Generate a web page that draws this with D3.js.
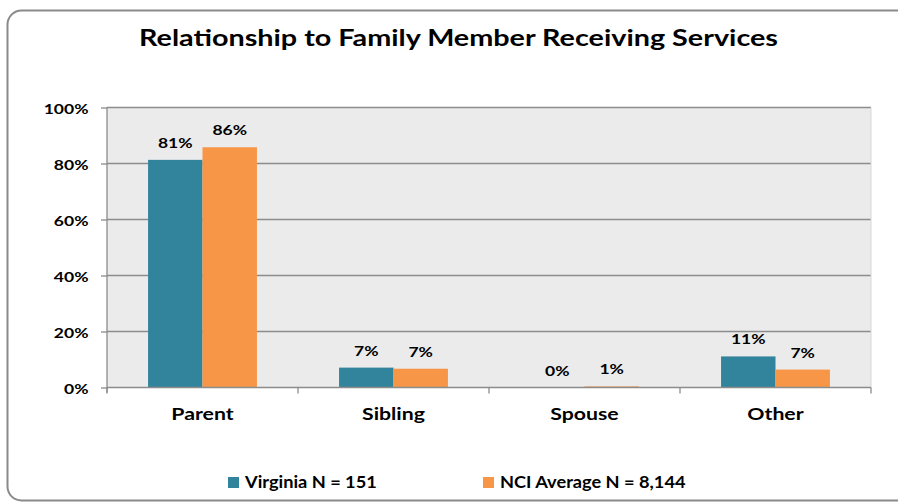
<!DOCTYPE html>
<html><head><meta charset="utf-8">
<script src="https://cdn.jsdelivr.net/npm/d3@7"></script>
<style>body{margin:0;background:#fff}text{font-family:Lato,"Open Sans",sans-serif;font-weight:bold;fill:#000}</style>
</head><body><svg id="c" width="898" height="503"></svg>
<script>
const categories = ["Parent", "Sibling", "Spouse", "Other"];
const seriesNames = ["Virginia N = 151", "NCI Average N = 8,144"];
const virginia = [0.813, 0.071, 0.0, 0.111];
const nciAverage = [0.858, 0.067, 0.004, 0.064];
const virginiaLabels = ["81%", "7%", "0%", "11%"];
const nciLabels = ["86%", "7%", "1%", "7%"];
const yTicks = [0, 0.2, 0.4, 0.6, 0.8, 1.0];
const colors = ["#31849B", "#F79646"];

const svg = d3.select("#c");
// outer frame
svg.append("rect").attr("x", 7.5).attr("y", 10.5).attr("width", 905).attr("height", 490)
  .attr("rx", 14).attr("fill", "#fff").attr("stroke", "#8a8a8a").attr("stroke-width", 2);

const L = 107, R = 871, T = 107.5, B = 387.5;
const x = d3.scaleBand().domain(categories).range([L, R]).paddingInner(0.43).paddingOuter(0.215);
const x1 = d3.scaleBand().domain([0, 1]).range([0, x.bandwidth()]);
const y = d3.scaleLinear().domain([0, 1]).range([B, T]);

svg.append("rect").attr("x", L).attr("y", T).attr("width", R - L).attr("height", B - T).attr("fill", "#ebebeb");

// gridlines
svg.append("g").selectAll("line").data(yTicks.filter(d => d > 0)).join("line")
  .attr("x1", L).attr("x2", R).attr("y1", d => y(d)).attr("y2", d => y(d))
  .attr("stroke", "#8c8c8c").attr("stroke-width", 1.3);
svg.append("line").attr("x1", R).attr("x2", R).attr("y1", T).attr("y2", B).attr("stroke", "#d8d8d8");

// y axis
const yAxis = d3.axisLeft(y).tickValues(yTicks).tickFormat(d3.format(".0%")).tickSize(6).tickPadding(12.5);
const yg = svg.append("g").attr("transform", `translate(${L},0)`).call(yAxis);
yg.select(".domain").attr("stroke", "#8c8c8c").attr("stroke-width", 1.3).attr("d", `M0,${T}V${B + 5}`);
yg.selectAll(".tick line").attr("stroke", "#8c8c8c").attr("stroke-width", 1.3);
yg.selectAll(".tick text").attr("font-size", 14).attr("dy", "0.45em").attr("font-family", "Lato").attr("font-weight", "bold").attr("fill", "#000");

// bars
const data = categories.map((c, i) => ({c, v: [virginia[i], nciAverage[i]], l: [virginiaLabels[i], nciLabels[i]]}));
const groups = svg.append("g").selectAll("g").data(data).join("g")
  .attr("transform", d => `translate(${x(d.c)},0)`);
groups.selectAll("rect").data(d => d.v.map((v, k) => ({v, k}))).join("rect")
  .attr("x", d => x1(d.k)).attr("width", x1.bandwidth())
  .attr("y", d => y(d.v)).attr("height", d => B - y(d.v)).attr("fill", d => colors[d.k]);
groups.selectAll("text").data(d => d.v.map((v, k) => ({v, k, l: d.l[k]}))).join("text")
  .attr("x", d => x1(d.k) + x1.bandwidth() / 2).attr("y", d => y(d.v) - 12)
  .attr("text-anchor", "middle").attr("font-size", 14).text(d => d.l);

// x axis
svg.append("line").attr("x1", L).attr("x2", R).attr("y1", B).attr("y2", B).attr("stroke", "#8c8c8c").attr("stroke-width", 1.3);
const step = (R - L) / categories.length;
svg.append("g").selectAll("line").data(d3.range(categories.length + 1)).join("line")
  .attr("x1", i => L + i * step).attr("x2", i => L + i * step).attr("y1", B).attr("y2", B + 6)
  .attr("stroke", "#8c8c8c").attr("stroke-width", 1.3);
svg.append("g").selectAll("text").data(categories).join("text")
  .attr("x", d => x(d) + x.bandwidth() / 2).attr("y", 420).attr("text-anchor", "middle")
  .attr("font-size", 17).text(d => d);

// title
svg.append("text").attr("class", "title").attr("x", 458.5).attr("y", 46).attr("text-anchor", "middle").attr("font-size", 22.5)
  .text("Relationship to Family Member Receiving Services");

// legend
const legX = [228, 483];
const lg = svg.append("g").selectAll("g").data(seriesNames).join("g")
  .attr("transform", (d, i) => `translate(${legX[i]},477)`);
lg.append("rect").attr("width", 11).attr("height", 11).attr("fill", (d, i) => colors[i]);
lg.append("text").attr("class", "leg").attr("x", 17).attr("y", 11).attr("font-size", 17).text(d => d);

// the reference's text is horizontally stretched
svg.selectAll("text").each(function() {
  const len = this.getComputedTextLength();
  const cls = this.getAttribute("class");
  const k = cls === "title" ? 1.278 : cls === "leg" ? 1.07 : 1.25;
  d3.select(this).attr("textLength", len * k).attr("lengthAdjust", "spacingAndGlyphs");
});
</script></body></html>
